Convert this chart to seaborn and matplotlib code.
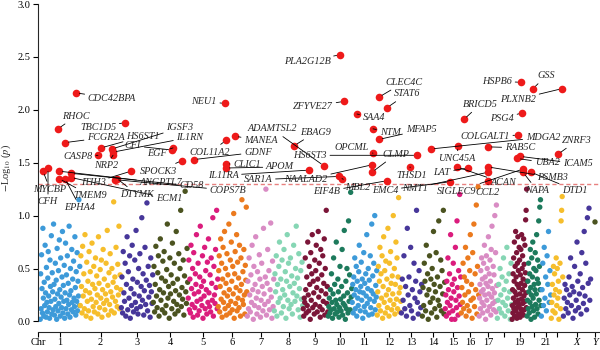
import numpy as np
import pandas as pd
import matplotlib
matplotlib.use('Agg')
import matplotlib.pyplot as plt
import seaborn as sns

# chromosomes and their widths on the genome axis
chrom_names = [str(i) for i in range(1, 23)] + ['X', 'Y']
chrom_width = [40, 41, 32, 35, 30, 29, 27, 29, 25, 24, 25, 24, 21, 23, 16, 18, 18, 15, 15, 14, 10, 12, 28, 8]
tick_labels = [str(i) for i in range(1, 18)] + ['', '19', '', '21', '', 'X', 'Y']

# -log10(p) of the non-significant loci, per chromosome
chr1_vals = [0.02, 0.45, 0.12, 0.63, 0.31, 0.08, 0.88, 0.22, 0.05, 0.37, 0.15, 0.72, 0.27, 0.04, 0.51, 0.18, 0.09, 0.41, 0.66, 0.24,
             0.13, 0.03, 0.58, 0.33, 0.19, 0.81, 0.07, 0.46, 0.28, 0.11, 0.92, 0.35, 0.06, 0.21, 0.55, 0.14, 0.39, 0.02, 0.69, 0.26,
             0.10, 0.48, 0.17, 0.77, 0.30, 0.05, 0.60, 0.23, 0.13, 0.42, 0.85, 0.08, 0.34, 0.19, 0.53, 0.03, 0.27, 0.74, 0.12, 0.44,
             0.20, 0.62, 0.07, 0.36, 0.16, 0.90, 0.25, 0.04, 0.50, 0.29, 0.11, 0.68, 0.18, 0.40, 0.09, 0.57, 0.22, 0.14, 0.80, 0.32,
             0.06, 0.47, 0.19, 0.65, 0.10, 0.38, 0.24, 1.15, 0.15, 0.52]
chr2_vals = [0.15, 0.62, 0.33, 0.08, 0.71, 0.24, 0.45, 0.12, 0.82, 0.29, 0.05, 0.56, 0.19, 0.38, 0.10, 0.66, 0.27, 0.47, 0.03, 0.21,
             0.74, 0.35, 0.14, 0.52, 0.09, 0.31, 0.60, 0.18, 0.43, 0.25, 0.07, 0.80, 0.36, 0.13, 0.49, 0.22, 0.58, 0.04, 0.30, 0.68,
             0.17, 0.40, 0.11, 0.26, 0.55, 0.20, 0.86, 0.34, 0.06, 0.46, 0.16, 0.64, 0.28, 0.10, 0.50, 0.23, 0.37, 1.13, 0.08, 0.42,
             0.19, 0.70, 0.32, 0.14, 0.54, 0.25, 0.90, 0.12, 0.44, 0.30]
chr3_vals = [0.13, 0.42, 0.08, 0.66, 0.27, 0.19, 0.55, 0.05, 0.35, 0.80, 0.11, 0.47, 0.22, 0.62, 0.03, 0.31, 0.15, 0.72, 0.40, 0.09,
             0.26, 0.58, 0.18, 0.86, 0.12, 0.37, 0.07, 0.50, 0.24, 0.64, 0.14, 0.33, 0.98, 0.20, 0.45, 0.06, 0.29, 0.70, 0.16, 0.39,
             1.12, 0.10, 0.52, 0.23, 0.34, 0.04, 0.60, 0.28, 0.17, 0.44]
chr4_vals = [0.18, 0.52, 0.09, 0.35, 0.71, 0.24, 0.13, 0.46, 0.62, 0.05, 0.30, 0.78, 0.20, 0.41, 0.11, 0.57, 0.27, 0.66, 0.08, 0.38,
             0.15, 0.49, 0.92, 0.22, 0.33, 0.03, 0.60, 0.26, 0.44, 0.12, 0.74, 0.36, 0.19, 0.55, 0.07, 0.29, 0.85, 0.16, 0.40, 0.10,
             0.64, 0.25, 0.50, 1.05, 0.14, 0.32, 0.21, 0.58, 0.06, 0.43, 1.23, 0.28, 0.17, 0.69, 0.37]
chr5_vals = [0.22, 0.58, 0.11, 0.40, 0.08, 0.72, 0.31, 0.16, 0.50, 0.04, 0.65, 0.26, 0.13, 0.45, 0.35, 0.82, 0.19, 0.06, 0.55, 0.28,
             0.10, 0.42, 0.90, 0.21, 0.33, 0.15, 0.62, 0.03, 0.38, 0.24, 0.70, 0.12, 0.48, 0.30, 0.07, 0.56, 0.18, 0.78, 0.27, 0.14,
             0.44, 0.09, 0.60, 0.36, 0.20, 0.98, 0.05, 0.52, 0.25, 0.17, 0.68, 0.32, 1.05, 0.12, 0.40]
chr6_vals = [0.14, 0.48, 0.62, 0.09, 0.33, 0.78, 0.21, 0.55, 0.04, 0.40, 0.70, 0.18, 0.27, 0.85, 0.12, 0.50, 0.36, 0.06, 0.64, 0.24,
             0.44, 0.15, 0.92, 0.30, 0.08, 0.58, 0.19, 0.75, 0.38, 0.11, 0.52, 0.26, 1.02, 0.03, 0.45, 0.66, 0.17, 0.32, 0.82, 0.10,
             0.56, 0.22, 0.41, 0.13, 0.72, 0.29, 0.05, 0.60, 0.35, 1.15, 0.20, 0.47, 0.16, 0.68, 0.25, 0.07, 0.53, 0.39, 1.08, 0.28]
chr7_vals = [0.05, 0.38, 0.12, 0.60, 0.25, 0.09, 0.44, 0.18, 0.72, 0.30, 0.02, 0.52, 0.15, 0.35, 0.80, 0.22, 0.07, 0.47, 0.28, 0.13,
             0.63, 0.40, 0.04, 0.20, 0.55, 0.33, 0.10, 0.88, 0.26, 0.16, 0.42, 1.25, 0.06, 0.36, 0.68, 0.19, 0.48, 0.11, 0.30, 0.93,
             0.23, 0.03, 0.57, 0.14, 0.40]
chr8_vals = [0.10, 0.45, 0.28, 0.62, 0.05, 0.35, 0.18, 0.52, 0.75, 0.22, 0.40, 0.08, 0.58, 0.30, 0.14, 0.68, 0.25, 0.47, 0.03, 0.38,
             0.82, 0.20, 0.55, 0.12, 0.33, 0.60, 0.16, 0.43, 0.07, 0.27, 0.72, 0.36, 0.19, 0.50, 0.90, 0.24, 0.41, 0.11, 0.64, 0.31,
             0.04, 0.48, 0.21, 0.56, 0.15]
chr9_vals = [0.12, 0.05, 0.22, 0.18, 0.60, 0.30, 0.08, 0.42, 0.15, 0.75, 0.25, 0.10, 0.52, 0.35, 0.02, 0.65, 0.20, 0.45, 0.82, 0.13,
             0.38, 0.27, 0.07, 0.58, 0.16, 0.48, 0.72, 0.32, 0.09, 0.40, 0.85, 0.23, 0.55, 0.14, 0.04, 0.68, 0.29, 0.44, 0.11, 0.62,
             0.19, 0.36, 0.78, 0.06, 0.50, 0.26, 1.05, 0.17, 0.33, 0.09]
chr10_vals = [0.05, 0.14, 0.22, 0.08, 0.30, 0.11, 0.45, 0.18, 0.03, 0.26, 0.60, 0.12, 0.35, 0.07, 0.20, 0.75, 0.16, 0.09, 0.40, 0.28,
              0.04, 0.13, 0.52, 0.21, 0.10, 0.33, 0.68, 0.06, 0.17, 0.24, 0.86, 0.15, 0.02, 0.38, 0.12, 0.50, 0.27, 0.08, 0.95, 0.19,
              0.44, 0.11, 1.22, 0.23, 0.31]
chr11_vals = [0.18, 0.35, 0.08, 0.42, 0.25, 0.60, 0.12, 0.30, 0.52, 0.05, 0.38, 0.22, 0.15, 0.47, 0.72, 0.28, 0.10, 0.33, 0.56, 0.20,
              0.40, 0.03, 0.27, 0.65, 0.14, 0.36, 0.09, 0.45, 0.24, 0.82, 0.17, 0.31, 0.50, 0.06, 0.39, 0.21, 0.62, 0.13, 0.29, 0.92,
              0.07, 0.43, 0.26, 0.55, 0.19, 1.00, 0.11, 0.34, 0.23, 0.48]
chr12_vals = [0.06, 0.28, 0.52, 0.15, 0.38, 0.70, 0.10, 0.45, 0.22, 0.62, 0.03, 0.33, 0.80, 0.18, 0.48, 0.08, 0.57, 0.25, 0.40, 0.13,
              0.88, 0.30, 0.05, 0.55, 0.20, 0.66, 0.36, 0.11, 0.43, 0.26, 1.00, 0.16, 0.50, 0.07, 0.35, 0.75, 0.21, 0.60, 0.12, 0.42,
              1.17, 0.27, 0.09, 0.32, 0.19]
chr13_vals = [0.08, 0.40, 0.20, 0.62, 0.12, 0.33, 0.05, 0.88, 0.25, 0.42, 0.15, 0.70, 0.10, 0.30, 0.03, 0.55, 0.22, 0.38, 1.05, 0.18,
              0.07, 0.48, 0.28, 0.13, 0.35]
chr14_vals = [0.05, 0.32, 0.15, 0.55, 0.38, 0.10, 0.72, 0.25, 0.45, 0.02, 0.30, 0.62, 0.18, 0.40, 0.08, 0.50, 0.22, 0.85, 0.35, 0.12,
              0.28, 0.65, 0.04, 0.42, 0.20, 0.95, 0.15, 0.33, 0.58, 0.10, 0.48, 0.26, 1.05, 0.07, 0.37]
chr15_vals = [0.12, 0.25, 0.05, 0.38, 0.18, 0.60, 0.30, 0.08, 0.45, 0.15, 0.82, 0.22, 0.02, 0.35, 0.10, 0.55, 0.28, 0.40, 0.02, 0.70,
              0.20, 0.13, 0.95, 0.32, 0.06, 0.48, 0.24, 1.20, 0.16, 0.42]
chr16_vals = [0.08, 0.32, 0.18, 0.55, 0.12, 0.42, 0.25, 0.70, 0.05, 0.38, 0.15, 0.60, 0.28, 0.10, 0.48, 0.82, 0.20, 0.35, 0.03, 0.65,
              0.22, 0.92, 0.14, 0.45, 0.30, 1.10, 0.07, 0.52, 1.27, 0.25]
chr17_vals = [0.05, 0.22, 0.35, 0.12, 0.48, 0.28, 0.60, 0.18, 0.40, 0.08, 0.30, 0.55, 0.15, 0.72, 0.25, 0.42, 0.02, 0.36, 0.62, 0.20,
              0.50, 0.10, 0.33, 0.80, 0.26, 0.45, 0.14, 0.58, 0.38, 0.06, 0.68, 0.23, 0.90, 0.31, 0.17, 0.52, 0.11, 0.44, 0.27, 1.00,
              0.19, 0.65, 0.09, 1.10, 0.34]
chr18_vals = [0.03, 0.20, 0.35, 0.12, 0.50, 0.25, 0.08, 0.42, 0.18, 0.60, 0.30, 0.05, 0.15, 0.38, 0.70, 0.22, 0.10, 0.45, 0.28, 0.02,
              0.55, 0.16]
chr19_vals = [0.02, 0.15, 0.30, 0.08, 0.45, 0.22, 0.60, 0.12, 0.38, 0.75, 0.05, 0.28, 0.52, 0.18, 0.85, 0.10, 0.42, 0.25, 0.65, 0.03,
              0.35, 0.55, 0.14, 0.80, 0.20, 0.48, 0.07, 0.32, 0.70, 0.16, 0.58, 0.26, 0.04, 0.44, 0.12, 0.68, 0.36, 0.21, 0.82, 0.09,
              0.50, 0.30, 0.62, 0.17, 0.40, 0.06, 0.78, 0.24, 0.54, 0.11, 0.34, 0.72, 0.19, 0.46, 0.96, 0.27, 1.05, 0.13, 1.25, 0.38]
chr20_vals = [0.05, 0.20, 0.38, 0.12, 0.55, 0.28, 0.08, 0.45, 0.18, 0.68, 0.32, 0.02, 0.25, 0.60, 0.14, 0.42, 0.75, 0.22, 0.10, 0.50,
              0.35, 0.04, 0.30, 0.65, 0.16, 0.48, 0.26, 0.82, 0.12, 0.40, 0.58, 0.07, 0.36, 0.95, 0.20, 0.52, 1.08, 0.30, 1.15, 0.15]
chr21_vals = [0.05, 0.30, 0.55, 0.15, 0.70, 0.22, 0.42, 0.10, 0.62, 0.35, 0.85, 0.18, 0.48, 0.25]
chr22_vals = [0.03, 0.18, 0.35, 0.10, 0.52, 0.25, 0.45, 0.08, 0.30, 0.60, 0.15, 0.50, 0.22, 0.38, 0.02, 0.28, 0.55, 0.12, 0.95, 1.05,
              1.18, 0.42]
chrX_vals = [0.05, 0.22, 0.35, 0.12, 0.30, 0.18, 0.08, 0.42, 0.25, 0.60, 0.15, 0.33, 0.03, 0.28, 0.52, 0.10, 0.20, 0.75, 0.38, 0.13,
             0.26, 0.45, 0.07, 0.65, 0.32, 0.17, 0.85, 0.24, 0.55, 0.11, 0.98, 0.36, 1.07, 0.20, 0.40]
chrY_vals = [0.94]

bg_vals = [chr1_vals, chr2_vals, chr3_vals, chr4_vals, chr5_vals, chr6_vals, chr7_vals, chr8_vals, chr9_vals, chr10_vals,
           chr11_vals, chr12_vals, chr13_vals, chr14_vals, chr15_vals, chr16_vals, chr17_vals, chr18_vals, chr19_vals,
           chr20_vals, chr21_vals, chr22_vals, chrX_vals, chrY_vals]

# significant (labelled) loci: gene, chromosome, position inside chromosome, -log10(p)
sig_genes = ['CDC42BPA', 'RHOC', 'FCGR2A', 'MYCBP', 'CFH', 'ANGPTL7', 'TMEM9', 'EPHA4', 'CD58', 'ECM1',
             'HS6ST1', 'CASP8', 'IGSF3', 'IL1RN', 'NRP2', 'DTYMK', 'COPS7B',
             'TBC1D5', 'ITIH3', 'CFI', 'EGF', 'SPOCK3', 'GDNF',
             'NEU1', 'MANEA', 'COL11A2', 'CLIC1', 'APOM', 'EBAG9', 'ADAMTSL2', 'IL11RA',
             'PLA2G12B', 'ZFYVE27', 'SAR1A', 'MBL2', 'SAA4', 'NTM', 'OPCML', 'NAALAD2', 'CLMP',
             'EIF4B', 'CLEC4C', 'STAT6', 'MFAP5', 'THSD1', 'HS6ST3', 'MDGA2',
             'EMC4', 'UNC45A', 'ACAN', 'BRICD5', 'LAT', 'RAB5C', 'PSMB3', 'NMT1', 'CCL2',
             'COLGALT1', 'HSPB6', 'PSG4', 'UBA2', 'ICAM5', 'SIGLEC9', 'NAPA', 'GSS', 'DTD1', 'PLXNB2', 'ZNRF3']
sig_chrom = ['1', '1', '1', '1', '1', '1', '1', '1', '1', '1',
             '2', '2', '2', '2', '2', '2', '2',
             '3', '3', '4', '4', '4', '5',
             '6', '6', '6', '6', '6', '8', '9', '9',
             '10', '10', '10', '10', '11', '11', '11', '11', '11',
             '12', '12', '12', '12', '13', '13', '14',
             '15', '15', '15', '16', '16', '17', '17', '17', '17',
             '19', '19', '19', '19', '19', '19', '19', '20', '20', '22', '22']
sig_pos = [36, 18, 25, 3, 8, 19, 19, 25, 31, 31,
           21, 18, 32, 33, 33, 37, 35,
           4, 10, 19, 20, 29, 6,
           7, 17, 8, 8, 8, 20, 21, 6,
           12, 16, 11, 14, 5, 21, 21, 20, 20,
           10, 2, 10, 2, 9, 16, 9,
           5, 13, 12, 3, 7, 9, 9, 9, 9,
           6, 9, 10, 5, 8, 11, 11, 6, 4, 11, 7]
sig_logp = [2.16, 1.82, 1.69, 1.42, 1.45, 1.42, 1.35, 1.35, 1.40, 1.36,
            1.64, 1.57, 1.63, 1.60, 1.57, 1.35, 1.34,
            1.88, 1.42, 1.62, 1.64, 1.52, 1.53,
            2.06, 1.75, 1.71, 1.49, 1.45, 1.66, 1.47, 1.43,
            2.52, 2.08, 1.37, 1.35, 1.96, 1.82, 1.59, 1.48, 1.41,
            1.33, 2.12, 2.02, 1.72, 1.46, 1.57, 1.63,
            1.32, 1.66, 1.46, 1.91, 1.45, 1.65, 1.46, 1.41, 1.33,
            1.76, 2.26, 1.97, 1.54, 1.56, 1.44, 1.41, 2.20, 1.41, 2.20, 1.58]

threshold = 1.3

# where each gene label sits (genome axis units, -log10 p)
label_xy = {
    'CDC42BPA': (72, 2.11), 'RHOC': (36, 1.94), 'FCGR2A': (66, 1.74), 'MYCBP': (10, 1.25), 'CFH': (8, 1.13),
    'ANGPTL7': (121, 1.31), 'TMEM9': (50, 1.19), 'EPHA4': (40, 1.08), 'CD58': (152, 1.28), 'ECM1': (129, 1.16),
    'HS6ST1': (103, 1.75), 'CASP8': (38, 1.56), 'IGSF3': (140, 1.83), 'IL1RN': (150, 1.74), 'NRP2': (66, 1.47),
    'DTYMK': (97, 1.20), 'COPS7B': (188, 1.24), 'TBC1D5': (58, 1.83), 'ITIH3': (53, 1.31), 'CFI': (93, 1.66),
    'EGF': (117, 1.59), 'SPOCK3': (118, 1.42), 'GDNF': (218, 1.60), 'NEU1': (164, 2.08), 'MANEA': (221, 1.71),
    'COL11A2': (170, 1.60), 'CLIC1': (207, 1.48), 'APOM': (240, 1.46), 'EBAG9': (276, 1.79), 'ADAMTSL2': (232, 1.82),
    'IL11RA': (183, 1.38), 'PLA2G12B': (267, 2.46), 'ZFYVE27': (273, 2.03), 'SAR1A': (218, 1.34), 'MBL2': (318, 1.27),
    'SAA4': (334, 1.93), 'NTM': (350, 1.79), 'OPCML': (312, 1.64), 'NAALAD2': (266, 1.34), 'CLMP': (356, 1.58),
    'EIF4B': (287, 1.23), 'CLEC4C': (364, 2.26), 'STAT6': (367, 2.15), 'MFAP5': (381, 1.81), 'THSD1': (372, 1.38),
    'HS6ST3': (270, 1.57), 'MDGA2': (503, 1.74), 'EMC4': (345, 1.24), 'UNC45A': (417, 1.54), 'ACAN': (463, 1.31),
    'BRICD5': (440, 2.05), 'LAT': (402, 1.41), 'RAB5C': (480, 1.64), 'PSMB3': (513, 1.36), 'NMT1': (375, 1.26),
    'CCL2': (448, 1.22), 'COLGALT1': (445, 1.75), 'HSPB6': (457, 2.27), 'PSG4': (462, 1.92), 'UBA2': (507, 1.50),
    'ICAM5': (538, 1.49), 'SIGLEC9': (417, 1.23), 'NAPA': (497, 1.24), 'GSS': (506, 2.32), 'DTD1': (535, 1.24),
    'PLXNB2': (478, 2.10), 'ZNRF3': (537, 1.71),
}

palette10 = ['#3D9AD9', '#F6BE2C', '#47379A', '#4B5320', '#DB1C7D',
             '#EB7A1E', '#D98CC4', '#86D6B4', '#7B1538', '#1D7A5C']
chrom_colors = [palette10[i % 10] for i in range(len(chrom_names))]

sns.set_style('ticks')
plt.rcParams['font.family'] = ['Liberation Serif', 'DejaVu Serif']
plt.rcParams['mathtext.fontset'] = 'stix'

# genome coordinates
starts = np.concatenate([[0], np.cumsum(chrom_width)[:-1]])
centers = starts + np.array(chrom_width) / 2
rows = []
for name, st, w, vals in zip(chrom_names, starts, chrom_width, bg_vals):
    n = len(vals)
    for j, v in enumerate(vals):
        rows.append((name, st + (j + 0.5) * w / n, v))
bg = pd.DataFrame(rows, columns=['chrom', 'x', 'logp'])

start_of = dict(zip(chrom_names, starts))
sig = pd.DataFrame({'gene': sig_genes, 'chrom': sig_chrom, 'pos': sig_pos, 'logp': sig_logp})
sig['x'] = sig['chrom'].map(start_of) + sig['pos']

fig = plt.figure(figsize=(6, 3.5), dpi=100)
ax = fig.add_axes([38 / 600, 18 / 350, 561 / 600, 328 / 350])

sns.scatterplot(data=bg, x='x', y='logp', hue='chrom', hue_order=chrom_names, palette=chrom_colors,
                s=15, linewidth=0, legend=False, ax=ax, zorder=2)
ax.axhline(threshold, color='#E8807F', lw=1.0, ls=(0, (3, 2)), zorder=1)
sns.scatterplot(data=sig, x='x', y='logp', color='#EE1A1A', s=30, linewidth=0, ax=ax, zorder=4)

for g, x, y in zip(sig['gene'], sig['x'], sig['logp']):
    lx, ly = label_xy[g]
    ax.annotate(g, xy=(x, y), xytext=(lx, ly), textcoords='data', ha='center', va='center',
                fontsize=7.3, fontstyle='italic', zorder=5,
                arrowprops=dict(arrowstyle='-', color='black', lw=0.6, shrinkA=0, shrinkB=2.5))

ax.set_xlim(-2, 559)
ax.set_ylim(-0.10, 3.0)
ax.set_xticks([-2] + list(centers))
ax.set_xticklabels(['Chr'] + tick_labels)
for t in ax.get_xticklabels():
    if t.get_text() in ('X', 'Y'):
        t.set_fontstyle('italic')
ax.set_yticks([0, 0.5, 1.0, 1.5, 2.0, 2.5, 3.0])
ax.set_yticklabels(['0.0', '0.5', '1.0', '1.5', '2.0', '2.5', '3.0'])
ax.tick_params(axis='both', labelsize=7.5, length=3.5, width=0.8, pad=2, colors='black')
ax.tick_params(axis='x', pad=1)
ax.set_xlabel('')
ax.set_ylabel(r'$-$Log$_{10}$ ($p$)', fontsize=7.5, labelpad=3)

sns.despine(ax=ax)
ax.spines['left'].set_bounds(0, 3)
ax.spines['left'].set_linewidth(0.8)
ax.spines['bottom'].set_linewidth(0.8)

fig.savefig('out.png', dpi=100)
